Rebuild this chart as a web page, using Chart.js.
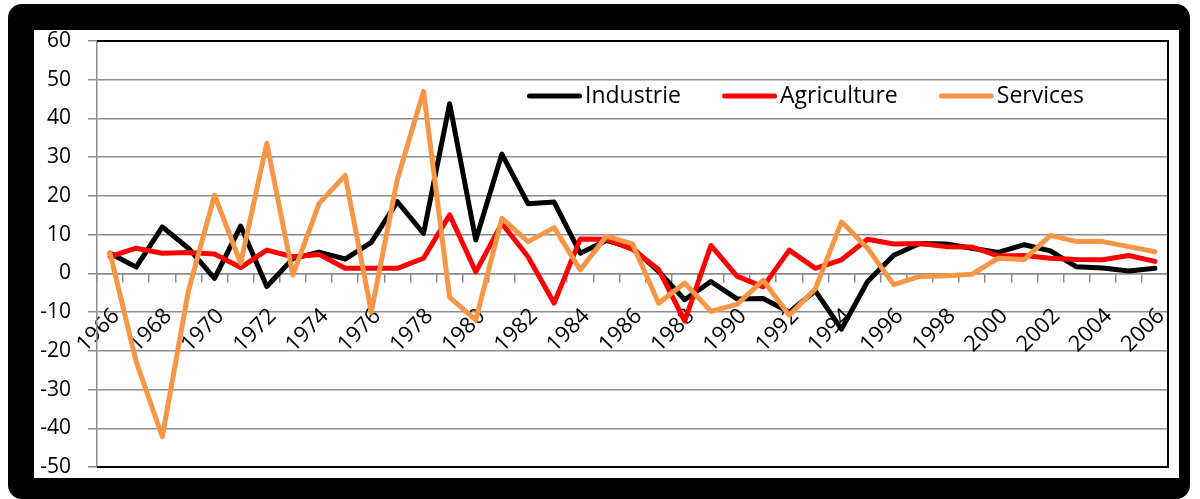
<!DOCTYPE html>
<html>
<head>
<meta charset="utf-8">
<title>Industrie, Agriculture, Services</title>
<script src="https://cdn.jsdelivr.net/npm/chart.js@4.4.1/dist/chart.umd.min.js"></script>
<style>
  html, body { margin: 0; padding: 0; background: #fff; }
  body { width: 1200px; height: 499px; position: relative; overflow: hidden; }
  #frame {
    position: absolute; left: 8px; top: 4px; width: 1182px; height: 495px;
    background: #000; border-radius: 14px;
  }
  #panel {
    position: absolute; left: 34px; top: 30px; width: 1145px; height: 448px;
    background: #fff;
  }
  canvas { display: block; }
</style>
</head>
<body>
<div id="frame"></div>
<div id="panel"><canvas id="chart" width="1145" height="448"></canvas></div>
<script>
// growth rates by sector
const years = [
  '1966', '1967', '1968', '1969', '1970', '1971', '1972', '1973', '1974', '1975',
  '1976', '1977', '1978', '1979', '1980', '1981', '1982', '1983', '1984', '1985',
  '1986', '1987', '1988', '1989', '1990', '1991', '1992', '1993', '1994', '1995',
  '1996', '1997', '1998', '1999', '2000', '2001', '2002', '2003', '2004', '2005',
  '2006'
];

const industrie = [
  5.2, 1.6, 12, 6.5, -1.3, 12.2, -3.4, 3.8, 5.5, 3.7,
  8, 18.5, 10.3, 43.8, 8.6, 30.8, 18, 18.4, 5.2, 8.5,
  6.5, 0.5, -6.8, -2.1, -6.6, -6.5, -10, -4.5, -14.4, -2.1,
  4.7, 7.7, 7.6, 6.5, 5.4, 7.4, 5.8, 1.7, 1.4, 0.6,
  1.3
];

const agriculture = [
  4.3, 6.5, 5.2, 5.4, 5.0, 1.5, 6.0, 4.3, 4.9, 1.3,
  1.3, 1.3, 3.9, 15.1, 0.4, 12.9, 4.3, -7.7, 8.9, 8.8,
  6.2, 1.0, -12.3, 7.2, -0.7, -3.5, 6.0, 1.3, 3.5, 8.8,
  7.6, 7.7, 6.9, 6.8, 4.5, 4.6, 3.9, 3.6, 3.5, 4.6,
  3.1
];

const services = [
  5.2, -22.8, -42.2, -4.5, 20.2, 2.6, 33.6, -0.4, 18.0, 25.3,
  -10, 24.3, 47.0, -6.2, -12, 14.2, 8.2, 11.8, 0.9, 9.6,
  7.6, -7.7, -2.5, -9.8, -8, -1.8, -10.8, -4, 13.3, 6.5,
  -2.9, -0.8, -0.6, -0.2, 3.9, 3.6, 9.8, 8.2, 8.2, 6.9,
  5.6
];

const yMin = -50;
const yMax = 60;
const yStep = 10;

const FONT = '"Open Sans", "DejaVu Sans", sans-serif';
const GRID = '#8c8c8c';

// black frame on top, right and bottom of the plot area (left side is the grey axis)
const plotBorder = {
  id: 'plotBorder',
  beforeDatasetsDraw(chart) {
    const { ctx, chartArea: a } = chart;
    ctx.save();
    ctx.strokeStyle = '#000';
    ctx.lineWidth = 2;
    ctx.beginPath();
    ctx.moveTo(a.left, a.top);
    ctx.lineTo(a.right, a.top);
    ctx.lineTo(a.right, a.bottom);
    ctx.lineTo(a.left, a.bottom);
    ctx.stroke();
    ctx.restore();
  }
};

// legend sits inside the plot, in one row
const insideLegend = {
  id: 'insideLegend',
  afterDatasetsDraw(chart) {
    const { ctx, chartArea } = chart;
    let x = chartArea.left + 430;
    const y = chartArea.top + 55;
    ctx.save();
    ctx.font = '23px ' + FONT;
    ctx.textBaseline = 'middle';
    chart.data.datasets.forEach((ds) => {
      ctx.strokeStyle = ds.borderColor;
      ctx.lineWidth = 5;
      ctx.lineCap = 'round';
      ctx.beginPath();
      ctx.moveTo(x + 2.5, y);
      ctx.lineTo(x + 52.5, y);
      ctx.stroke();
      ctx.fillStyle = '#000';
      ctx.fillText(ds.label, x + 58, y);
      x += 58 + ctx.measureText(ds.label).width + 41;
    });
    ctx.restore();
  }
};

// keep tick labels from shrinking the plot; the outer padding is set by hand
function noScalePadding(scale) {
  scale.paddingTop = 0;
  scale.paddingBottom = 0;
  scale.paddingLeft = 0;
  scale.paddingRight = 0;
}

function makeSeries(label, data, color, order) {
  return {
    label,
    data,
    borderColor: color,
    backgroundColor: color,
    borderWidth: 5,
    borderJoinStyle: 'round',
    borderCapStyle: 'round',
    pointRadius: 0,
    tension: 0,
    order
  };
}

function drawChart() {
  new Chart(document.getElementById('chart'), {
    type: 'line',
    data: {
      labels: years,
      datasets: [
        makeSeries('Industrie', industrie, '#000000', 3),
        makeSeries('Agriculture', agriculture, '#ff0000', 2),
        makeSeries('Services', services, '#f79646', 1)
      ]
    },
    options: {
      responsive: false,
      animation: false,
      layout: { padding: { top: 11, right: 11, bottom: 11, left: 0 } },
      plugins: {
        legend: { display: false },
        tooltip: { enabled: false }
      },
      scales: {
        x: {
          type: 'category',
          position: { y: 0 },
          offset: true,
          afterFit: noScalePadding,
          grid: {
            offset: true,
            drawOnChartArea: false,
            drawTicks: true,
            tickLength: 8,
            color: GRID,
            lineWidth: 1.5
          },
          border: { color: GRID, width: 1.5 },
          ticks: {
            autoSkip: false,
            minRotation: 45,
            maxRotation: 45,
            padding: 22,
            labelOffset: 6,
            color: '#000',
            font: { family: FONT, size: 22 },
            callback(value, index) {
              return index % 2 === 0 ? years[index] : '';
            }
          }
        },
        y: {
          min: yMin,
          max: yMax,
          afterFit(scale) {
            noScalePadding(scale);
            scale.width = 63;
          },
          grid: {
            color: GRID,
            lineWidth: 1.5,
            tickLength: 9
          },
          border: { color: GRID, width: 1.5 },
          ticks: {
            stepSize: yStep,
            padding: 17,
            color: '#000',
            font: { family: FONT, size: 21 }
          }
        }
      }
    },
    plugins: [plotBorder, insideLegend]
  });
}

document.fonts.load('21px "Open Sans"').then(drawChart, drawChart);
</script>
</body>
</html>
